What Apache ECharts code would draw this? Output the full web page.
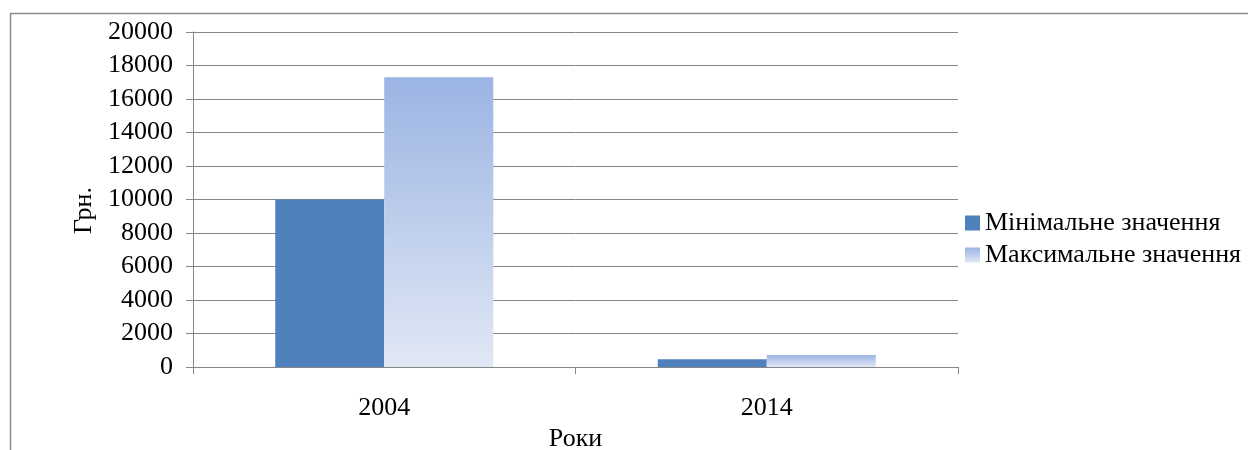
<!DOCTYPE html>
<html>
<head>
<meta charset="utf-8">
<script src="https://cdn.jsdelivr.net/npm/echarts@6/dist/echarts.min.js"></script>
<style>html,body{margin:0;padding:0;background:#fff;overflow:hidden;}#c{width:1248px;height:450px;}</style>
</head>
<body>
<div id="c"></div>
<script>
const categories = ['2004', '2014'];
const minValues = [10000, 470];
const maxValues = [17300, 720];
const seriesNames = ['Мінімальне значення', 'Максимальне значення'];
const yAxisName = 'Грн.';
const xAxisName = 'Роки';

const font = 'Liberation Serif, Times New Roman, serif';
const fs = 26;
const chart = echarts.init(document.getElementById('c'));
const maxGradient = new echarts.graphic.LinearGradient(0, 0, 0, 1, [
  {offset: 0, color: '#9bb4e3'},
  {offset: 1, color: '#e1e8f5'}
]);
chart.setOption({
  animation: false,
  backgroundColor: '#fff',
  graphic: [{
    type: 'rect', left: 8, top: 11, shape: {width: 1260, height: 460},
    style: {fill: 'none', stroke: '#8c8c8c', lineWidth: 1.5}, silent: true
  }],
  grid: {left: 193, width: 765, top: 32, height: 335, containLabel: false, outerBoundsMode: 'none'},
  legend: {
    orient: 'vertical', left: 960, top: 205, itemGap: 6,
    itemWidth: 15, itemHeight: 15, icon: 'rect',
    textStyle: {fontFamily: font, fontSize: fs, color: '#000'},
    data: seriesNames
  },
  xAxis: {
    type: 'category', data: categories,
    name: xAxisName, nameLocation: 'middle', nameGap: 55,
    nameTextStyle: {fontFamily: font, fontSize: fs, color: '#000'},
    axisLine: {lineStyle: {color: '#868686', width: 1}},
    axisTick: {show: true, length: 7, lineStyle: {color: '#868686'}},
    axisLabel: {fontFamily: font, fontSize: fs, color: '#000', margin: 28}
  },
  yAxis: {
    type: 'value', min: 0, max: 20000, interval: 2000,
    name: yAxisName, nameLocation: 'middle', nameGap: 96, nameRotate: 90,
    nameTextStyle: {fontFamily: font, fontSize: fs, color: '#000', padding: [0, 22, 0, 0]},
    axisLine: {show: true, lineStyle: {color: '#868686', width: 1}},
    axisTick: {show: true, length: 7, lineStyle: {color: '#868686'}},
    axisLabel: {fontFamily: font, fontSize: fs, color: '#000', margin: 20, formatter: v => String(v)},
    splitLine: {lineStyle: {color: '#868686', width: 1}}
  },
  series: [
    {name: seriesNames[0], type: 'bar', data: minValues, barGap: '0%', barCategoryGap: '43%',
     itemStyle: {color: '#4f81bd'}},
    {name: seriesNames[1], type: 'bar', data: maxValues, barGap: '0%', barCategoryGap: '43%',
     itemStyle: {color: maxGradient}}
  ]
});
</script>
</body>
</html>
